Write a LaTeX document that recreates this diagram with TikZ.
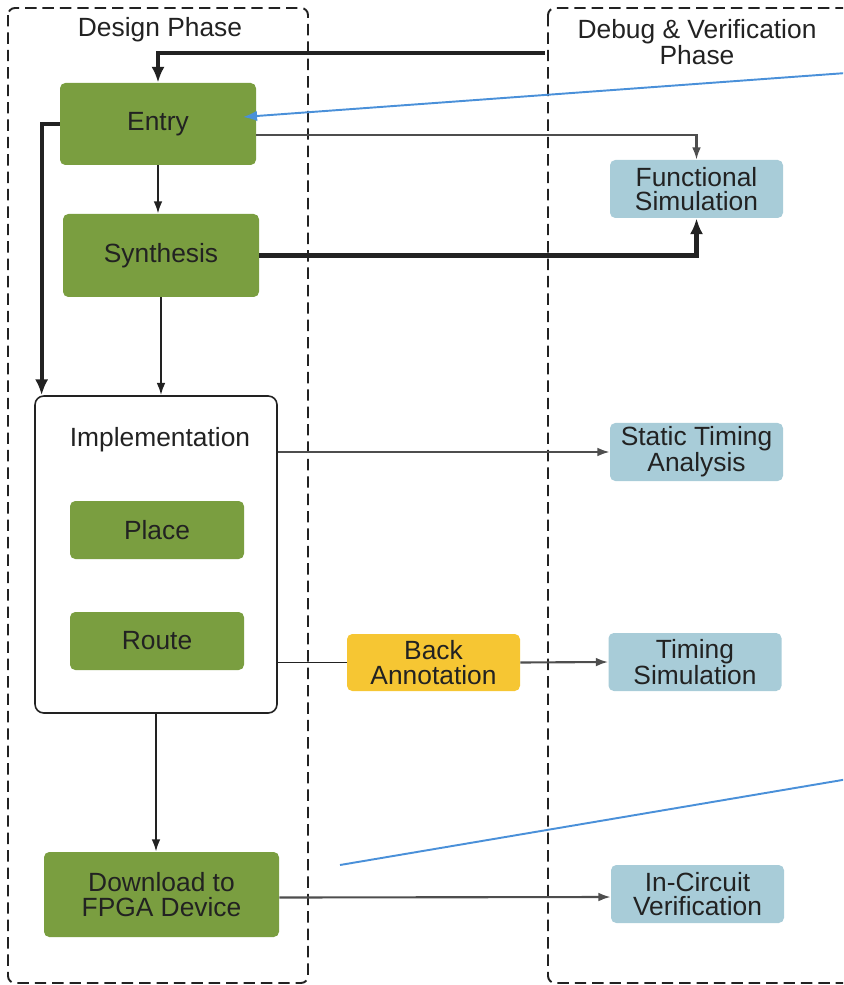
\documentclass[tikz,border=0pt]{standalone}
\usepackage{fontspec}
\setmainfont{Liberation Sans}
\usepackage{tikz}
\usetikzlibrary{arrows.meta}
\definecolor{grn}{RGB}{122,158,64}
\definecolor{ver}{RGB}{168,204,216}
\definecolor{ann}{RGB}{246,198,51}
\definecolor{ink}{RGB}{34,34,34}
\definecolor{note}{RGB}{74,144,217}

\begin{document}
\begin{tikzpicture}[every node/.style={font=\fontsize{15}{13.8}\selectfont,text=ink,align=center,inner sep=0pt},
      g/.style={fill=grn,rounded corners=3pt,minimum width=3.92cm,minimum height=1.64cm},
      v/.style={fill=ver,rounded corners=3pt,minimum width=3.46cm,minimum height=1.16cm},
      ph/.style={draw=ink,dash pattern=on 6.5pt off 3.4pt,line width=1.1pt,rounded corners=4pt},
      fl/.style={draw=ink,line width=1.2pt,-{Latex[length=7pt,width=5pt]}},
      bold/.style={draw=ink,line width=2.3pt,-{Latex[length=9pt,width=7.5pt]}},
      lt/.style={draw=ink!80,line width=1.2pt,-{Latex[length=7pt,width=5pt]}}]
      \clip (0,0) rectangle (16.86,-19.7);
      \draw[ph] (0.16,-0.16) rectangle (6.16,-19.66);
      \draw[ph] (10.96,-0.16) rectangle (17.4,-19.66);
      \node (dtitle) at (3.2,-0.6) {Design Phase};
      \node (vtitle) at (13.94,-0.84) {Debug \& Verification\\Phase};
      \node[g] (entry) at (3.16,-2.48) {Entry};
      \node[g,minimum height=1.66cm] (syn) at (3.22,-5.11) {Synthesis};
      \node[draw=ink,line width=0.9pt,fill=white,rounded corners=5pt,minimum width=4.84cm,minimum height=6.34cm] (impl) at (3.12,-11.09) {};
      \node (impltxt) at (3.2,-8.8) {Implementation};
      \node[g,minimum width=3.48cm,minimum height=1.16cm] (place) at (3.14,-10.6) {Place};
      \node[g,minimum width=3.48cm,minimum height=1.16cm] (route) at (3.14,-12.82) {Route};
      \node[g,minimum width=4.7cm,minimum height=1.7cm] (dl) at (3.23,-17.89) {Download to\\FPGA Device};
      \node[v] (func) at (13.93,-3.78) {Functional\\Simulation};
      \node[v] (sta) at (13.93,-9.04) {Static Timing\\Analysis};
      \node[v] (tsim) at (13.9,-13.24) {Timing\\Simulation};
      \node[v] (icv) at (13.95,-17.88) {In-Circuit\\Verification};
      \node[fill=ann,rounded corners=3pt,minimum width=3.46cm,minimum height=1.14cm] (back) at (8.67,-13.25) {Back\\Annotation};
      \coordinate (ret) at (10.9,-1.06);
      \coordinate (n1) at (17.2,-1.44);
      \coordinate (n2) at (17.2,-15.54);
      \coordinate (n2end) at (6.8,-17.3);
      \draw[bold] (ret) -| (entry.north);
      \draw[bold] (entry.west) -- ++(-0.36,0) coordinate (lp) -- (lp |- impl.north);
      \draw[fl] (entry.south) -- (entry.south |- syn.north);
      \draw[lt] ([yshift=-0.22cm]entry.east) -| (func.north);
      \draw[bold] (syn.east) -| (func.south);
      \draw[fl] (syn.south) -- (syn.south |- impl.north);
      \draw[lt] (impl.east |- sta.west) -- (sta.west);
      \draw[draw=ink,line width=1.1pt] (impl.east |- back.west) -- (back.west);
      \draw[lt] (back.east) -- (tsim.west);
      \draw[fl] (impl.south) -- (impl.south |- dl.north);
      \draw[lt] ([yshift=-0.06cm]dl.east) -- ([yshift=-0.06cm]icv.west);
      \draw[note,line width=1.1pt,-{Latex[length=8pt,width=6pt]}] (n1) -- (4.86,-2.34);
      \draw[note,line width=1.1pt] (n2) -- (n2end);
    \end{tikzpicture}
\end{document}
